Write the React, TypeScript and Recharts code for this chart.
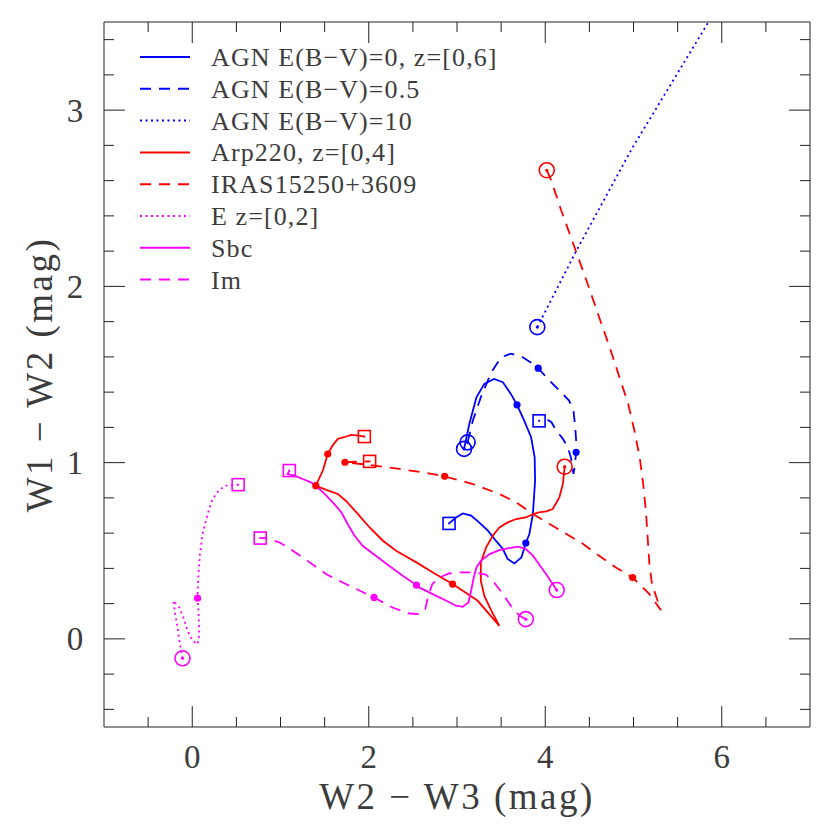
import React from 'react';
import { ComposedChart, Line, Scatter, XAxis, YAxis, Legend } from 'recharts';

type Pt = { x: number; y: number };
const toPts = (rows: number[][]): Pt[] => rows.map(([x, y]) => ({ x, y }));

// colour tracks (W2-W3, W1-W2)
const agn0Curve = toPts([
  [3.08, 1.078], [3.14, 1.22], [3.22, 1.37], [3.31, 1.447], [3.42, 1.475], [3.52, 1.456],
  [3.61, 1.39], [3.68, 1.328], [3.76, 1.24], [3.84, 1.144], [3.88, 1.03], [3.885, 0.898],
  [3.86, 0.708], [3.82, 0.595], [3.78, 0.544], [3.73, 0.462], [3.65, 0.428], [3.575, 0.453],
  [3.52, 0.51], [3.44, 0.557], [3.35, 0.614], [3.25, 0.661], [3.16, 0.699], [3.065, 0.712],
  [2.99, 0.689], [2.91, 0.655],
]);
const agn0Dots = toPts([[3.68, 1.328], [3.78, 0.544]]);

const agn05Curve = toPts([
  [3.12, 1.115], [3.18, 1.239], [3.27, 1.371], [3.39, 1.513], [3.5, 1.598], [3.61, 1.618],
  [3.745, 1.598], [3.86, 1.56], [3.92, 1.536], [4.03, 1.475], [4.16, 1.409], [4.27, 1.352],
  [4.32, 1.295], [4.34, 1.2], [4.35, 1.125], [4.35, 1.059], [4.335, 0.983], [4.32, 0.936],
  [4.29, 1.03], [4.255, 1.087], [4.2, 1.135], [4.12, 1.186], [4.07, 1.229], [4.01, 1.248],
  [3.93, 1.237],
]);
const agn05Dots = toPts([[3.92, 1.536], [4.35, 1.059]]);

const agn10Curve = toPts([[3.91, 1.769], [4.35, 2.2], [4.98, 2.78], [5.85, 3.5]]);
const agn10Dots: Pt[] = [];

const arpCurve = toPts([
  [4.22, 0.977], [4.2, 0.879], [4.16, 0.803], [4.085, 0.737], [4.01, 0.723], [3.93, 0.718],
  [3.86, 0.708], [3.78, 0.689], [3.67, 0.68], [3.575, 0.661], [3.48, 0.632], [3.405, 0.585],
  [3.33, 0.519], [3.27, 0.434], [3.27, 0.33], [3.31, 0.244], [3.39, 0.159], [3.48, 0.074],
  [3.235, 0.216], [2.95, 0.311], [2.76, 0.367], [2.54, 0.434], [2.31, 0.5], [2.16, 0.557],
  [2.01, 0.632], [1.86, 0.718], [1.74, 0.784], [1.65, 0.822], [1.52, 0.845], [1.4, 0.869],
  [1.48, 0.955], [1.535, 1.049], [1.59, 1.097], [1.65, 1.135], [1.72, 1.144], [1.8, 1.157],
  [1.89, 1.153], [1.95, 1.148],
]);
const arpDots = toPts([[2.95, 0.311], [1.4, 0.869], [1.535, 1.049]]);

const irasCurve = toPts([
  [4.017, 2.659], [4.067, 2.602], [4.18, 2.432], [4.29, 2.28], [4.48, 2.015], [4.61, 1.826],
  [4.73, 1.655], [4.84, 1.485], [4.94, 1.333], [5.01, 1.182], [5.07, 1.03], [5.11, 0.879],
  [5.14, 0.727], [5.16, 0.576], [5.18, 0.424], [5.21, 0.311], [5.26, 0.235], [5.31, 0.163],
  [5.18, 0.254], [5.105, 0.292], [4.99, 0.348], [4.8, 0.405], [4.61, 0.472], [4.43, 0.538],
  [4.24, 0.595], [4.05, 0.652], [3.86, 0.708], [3.67, 0.775], [3.48, 0.822], [3.17, 0.88],
  [2.86, 0.922], [2.61, 0.945], [2.35, 0.964], [2.16, 0.977], [1.95, 0.99], [1.73, 1.002],
  [1.85, 1.005], [2.01, 1.007],
]);
const irasDots = toPts([[4.99, 0.348], [2.86, 0.922], [1.73, 1.002]]);

const eCurve = toPts([
  [-0.11, -0.11], [-0.14, -0.03], [-0.167, 0.064], [-0.193, 0.14], [-0.215, 0.216],
  [-0.147, 0.178], [-0.1, 0.121], [-0.053, 0.045], [0.004, -0.011], [0.06, -0.03],
  [0.08, 0.027], [0.072, 0.14], [0.06, 0.231], [0.068, 0.348], [0.087, 0.481], [0.117, 0.595],
  [0.174, 0.708], [0.23, 0.794], [0.306, 0.845], [0.38, 0.869], [0.52, 0.875],
]);
const eDots = toPts([[0.06, 0.231]]);

const sbcCurve = toPts([
  [4.13, 0.277], [4.085, 0.311], [4.01, 0.367], [3.93, 0.424], [3.86, 0.472], [3.78, 0.51],
  [3.69, 0.523], [3.59, 0.515], [3.48, 0.504], [3.37, 0.481], [3.27, 0.443], [3.22, 0.405],
  [3.19, 0.348], [3.16, 0.273], [3.13, 0.206], [3.065, 0.182], [2.99, 0.188], [2.88, 0.216],
  [2.725, 0.254], [2.57, 0.292], [2.54, 0.305], [2.385, 0.358], [2.23, 0.415], [2.08, 0.472],
  [1.93, 0.528], [1.84, 0.585], [1.76, 0.652], [1.69, 0.718], [1.61, 0.765], [1.52, 0.813],
  [1.42, 0.86], [1.345, 0.888], [1.25, 0.907], [1.16, 0.926], [1.08, 0.935], [1.1, 0.955],
]);
const sbcDots = toPts([[2.54, 0.305]]);

const imCurve = toPts([
  [3.78, 0.112], [3.71, 0.131], [3.61, 0.188], [3.52, 0.254], [3.42, 0.32], [3.33, 0.364],
  [3.2, 0.377], [3.03, 0.377], [2.91, 0.371], [2.8, 0.348], [2.72, 0.311], [2.67, 0.235],
  [2.64, 0.169], [2.57, 0.14], [2.46, 0.144], [2.27, 0.178], [2.06, 0.235], [1.74, 0.311],
  [1.52, 0.367], [1.33, 0.434], [1.14, 0.5], [0.99, 0.547], [0.83, 0.572], [0.77, 0.572],
]);
const imDots = toPts([[2.06, 0.235]]);

const xTicks = [-0.5, 0, 0.5, 1, 1.5, 2, 2.5, 3, 3.5, 4, 4.5, 5, 5.5, 6, 6.5];
const yTicks = [-0.4, -0.2, 0, 0.2, 0.4, 0.6, 0.8, 1, 1.2, 1.4, 1.6, 1.8, 2, 2.2, 2.4, 2.6, 2.8, 3, 3.2, 3.4];
const xMajor = [0, 2, 4, 6];
const yMajor = [0, 1, 2, 3];

const BLUE = '#0000ff';
const RED = '#ff0000';
const MAGENTA = '#ff00ff';
const INK = '#222';
const TEXT = '#3c3c3c';
const FONT = '"Liberation Serif", "DejaVu Serif", serif';
const DASH = '11 8';
const DOT = '2 3.5';

const series = [
  { key: 'agn0', label: 'AGN E(B\u2212V)=0, z=[0,6]', color: BLUE, dash: undefined, curve: agn0Curve, dots: agn0Dots, end: true },
  { key: 'agn05', label: 'AGN E(B\u2212V)=0.5', color: BLUE, dash: DASH, curve: agn05Curve, dots: agn05Dots, end: true },
  { key: 'agn10', label: 'AGN E(B\u2212V)=10', color: BLUE, dash: DOT, curve: agn10Curve, dots: agn10Dots, end: false },
  { key: 'arp', label: 'Arp220, z=[0,4]', color: RED, dash: undefined, curve: arpCurve, dots: arpDots, end: true },
  { key: 'iras', label: 'IRAS15250+3609', color: RED, dash: DASH, curve: irasCurve, dots: irasDots, end: true },
  { key: 'ell', label: 'E z=[0,2]', color: MAGENTA, dash: DOT, curve: eCurve, dots: eDots, end: true },
  { key: 'sbc', label: 'Sbc', color: MAGENTA, dash: undefined, curve: sbcCurve, dots: sbcDots, end: true },
  { key: 'im', label: 'Im', color: MAGENTA, dash: DASH, curve: imCurve, dots: imDots, end: true },
];

const near = (list: number[], v: number) => list.some((m) => Math.abs(m - v) < 1e-6);

const BottomTick = (p: any) => {
  const v = p.payload.value;
  const major = near(xMajor, v);
  return (
    <g>
      <line x1={p.x} y1={p.y} x2={p.x} y2={p.y - (major ? 21 : 10)} stroke={INK} />
      {major && (
        <text x={p.x} y={p.y + 41} textAnchor="middle" fontSize={33} fill={TEXT} fontFamily={FONT}>
          {v}
        </text>
      )}
    </g>
  );
};
const TopTick = (p: any) => {
  const major = near(xMajor, p.payload.value);
  return <line x1={p.x} y1={p.y} x2={p.x} y2={p.y + (major ? 21 : 10)} stroke={INK} />;
};
const LeftTick = (p: any) => {
  const v = p.payload.value;
  const major = near(yMajor, v);
  return (
    <g>
      <line x1={p.x} y1={p.y} x2={p.x + (major ? 21 : 10)} y2={p.y} stroke={INK} />
      {major && (
        <text x={p.x - 29} y={p.y + 11.5} textAnchor="middle" fontSize={33} fill={TEXT} fontFamily={FONT}>
          {v}
        </text>
      )}
    </g>
  );
};
const RightTick = (p: any) => {
  const major = near(yMajor, p.payload.value);
  return <line x1={p.x} y1={p.y} x2={p.x - (major ? 21 : 10)} y2={p.y} stroke={INK} />;
};

const startMark = (color: string) => (p: any) => (
  <g>
    <circle cx={p.cx} cy={p.cy} r={7.5} fill="none" stroke={color} strokeWidth={1.6} />
    <circle cx={p.cx} cy={p.cy} r={1.6} fill={color} />
  </g>
);
const dotMark = (color: string) => (p: any) => <circle cx={p.cx} cy={p.cy} r={3.6} fill={color} />;
const endMark = (color: string) => (p: any) => (
  <g>
    <rect x={p.cx - 6} y={p.cy - 6} width={12} height={12} fill="none" stroke={color} strokeWidth={1.6} />
    <circle cx={p.cx} cy={p.cy} r={1} fill={color} />
  </g>
);
const noMark = () => <g />;

const LegendBox = () => (
  <svg width={420} height={270}>
    {series.map((s, i) => {
      const y = 22 + i * 31.8;
      return (
        <g key={s.key}>
          <line x1={10} y1={y} x2={60} y2={y} stroke={s.color} strokeWidth={2} strokeDasharray={s.dash} />
          <text x={81} y={y + 9} fontSize={26} fill={TEXT} fontFamily={FONT} letterSpacing={1.1}>
            {s.label}
          </text>
        </g>
      );
    })}
  </svg>
);

const XTitle = (p: any) => {
  const vb = p.viewBox;
  return (
    <text x={vb.x + vb.width / 2} y={vb.y + 82} textAnchor="middle" fontSize={37} fill={TEXT} fontFamily={FONT} letterSpacing={2.5}>
      W2 {'\u2212'} W3 (mag)
    </text>
  );
};
const YTitle = (p: any) => {
  const vb = p.viewBox;
  const cx = 40;
  const cy = vb.y + vb.height / 2;
  return (
    <text x={cx} y={cy} transform={`rotate(-90 ${cx} ${cy})`} textAnchor="middle" dy={12} fontSize={37} fill={TEXT} fontFamily={FONT} letterSpacing={2.5}>
      W1 {'\u2212'} W2 (mag)
    </text>
  );
};

export default function App() {
  return (
    <div style={{ position: 'absolute', left: 0, top: 0, background: '#fff' }}>
      <ComposedChart width={830} height={830} margin={{ top: 21, right: 19, bottom: 0, left: 0 }}>
        <XAxis
          xAxisId="b" dataKey="x" type="number" domain={[-1, 7]} allowDataOverflow ticks={xTicks} interval={0}
          height={103} tickSize={0} tickMargin={0} tickLine={false} tick={<BottomTick />}
          axisLine={{ stroke: INK }} label={{ content: XTitle }}
        />
        <XAxis
          xAxisId="t" orientation="top" dataKey="x" type="number" domain={[-1, 7]} allowDataOverflow ticks={xTicks}
          interval={0} height={1} tickSize={0} tickMargin={0} tickLine={false} tick={<TopTick />} axisLine={{ stroke: INK }}
        />
        <YAxis
          yAxisId="l" dataKey="y" type="number" domain={[-0.5, 3.5]} allowDataOverflow ticks={yTicks} interval={0}
          width={104} tickSize={0} tickMargin={0} tickLine={false} tick={<LeftTick />}
          axisLine={{ stroke: INK }} label={{ content: YTitle }}
        />
        <YAxis
          yAxisId="r" orientation="right" dataKey="y" type="number" domain={[-0.5, 3.5]} allowDataOverflow ticks={yTicks}
          interval={0} width={1} tickSize={0} tickMargin={0} tickLine={false} tick={<RightTick />} axisLine={{ stroke: INK }}
        />
        <Legend
          layout="vertical" align="center" verticalAlign="middle"
          wrapperStyle={{ left: 130, top: 35, width: 420, height: 270 }}
          content={() => <LegendBox />}
        />
        {/* keeps the top and right frame axes alive */}
        <Scatter xAxisId="t" yAxisId="r" data={[agn0Curve[0]]} shape={noMark} isAnimationActive={false} legendType="none" />
        {series.map((s) => (
          <Line
            key={s.key + '-line'} xAxisId="b" yAxisId="l" data={s.curve} dataKey="y" type="linear"
            stroke={s.color} strokeWidth={1.8} strokeDasharray={s.dash} dot={false} activeDot={false}
            isAnimationActive={false} legendType="none"
          />
        ))}
        {series.map((s) => (
          <Scatter
            key={s.key + '-dots'} xAxisId="b" yAxisId="l" data={s.dots} shape={dotMark(s.color)}
            isAnimationActive={false} legendType="none"
          />
        ))}
        {series.map((s) => (
          <Scatter
            key={s.key + '-start'} xAxisId="b" yAxisId="l" data={[s.curve[0]]} shape={startMark(s.color)}
            isAnimationActive={false} legendType="none"
          />
        ))}
        {series.filter((s) => s.end).map((s) => (
          <Scatter
            key={s.key + '-end'} xAxisId="b" yAxisId="l" data={[s.curve[s.curve.length - 1]]} shape={endMark(s.color)}
            isAnimationActive={false} legendType="none"
          />
        ))}
      </ComposedChart>
    </div>
  );
}
